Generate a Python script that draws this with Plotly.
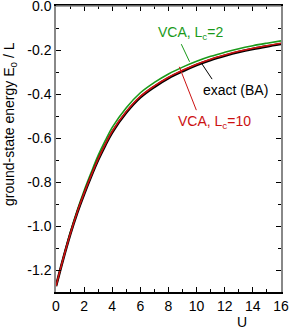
import plotly.graph_objects as go

# Interaction strength U
U = [0, 0.5, 1, 1.5, 2, 2.5, 3, 3.5, 4, 5, 6, 7, 8, 9, 10, 11, 12, 13, 14, 15, 16]

# exact (Bethe ansatz) ground-state energy per site
E_exact = [-1.2732, -1.1524, -1.0402, -0.9410, -0.8543, -0.7740, -0.6990, -0.6330,
           -0.5737, -0.4840, -0.4150, -0.3670, -0.3275, -0.2960, -0.2680, -0.2450,
           -0.2260, -0.2090, -0.1950, -0.1830, -0.1720]

# VCA, Lc=10
E_vca10 = [-1.2732, -1.1514, -1.0382, -0.9380, -0.8503, -0.7695, -0.6945, -0.6285,
           -0.5690, -0.4795, -0.4105, -0.3627, -0.3233, -0.2920, -0.2642, -0.2413,
           -0.2224, -0.2055, -0.1917, -0.1799, -0.1690]

# VCA, Lc=2
E_vca2 = [-1.2732, -1.1494, -1.0332, -0.9300, -0.8393, -0.7570, -0.6790, -0.6120,
          -0.5517, -0.4620, -0.3940, -0.3470, -0.3085, -0.2775, -0.2510, -0.2285,
          -0.2100, -0.1935, -0.1800, -0.1685, -0.1580]

y_tickvals = [0.0, -0.2, -0.4, -0.6, -0.8, -1.0, -1.2]
y_ticktext = ["0.0", "-0.2", "-0.4", "-0.6", "-0.8", "-1.0", "-1.2"]
x_tickvals = [0, 2, 4, 6, 8, 10, 12, 14, 16]
x_ticktext = ["0", "2", "4", "6", "8", "10", "12", "14", "16"]

GREEN = "#1a9a1a"
RED = "#cc1111"
BLACK = "#000000"
FONT = "Liberation Sans, Arial, sans-serif"

fig = go.Figure()
fig.add_trace(go.Scatter(x=U, y=E_vca2, mode="lines", line=dict(color=GREEN, width=1.6, shape="spline"),
                         name="VCA, Lc=2"))
fig.add_trace(go.Scatter(x=U, y=E_exact, mode="lines", line=dict(color=BLACK, width=2.6, shape="spline"),
                         name="exact (BA)"))
fig.add_trace(go.Scatter(x=U, y=E_vca10, mode="lines", line=dict(color=RED, width=1.6, shape="spline"),
                         name="VCA, Lc=10"))

axis_common = dict(
    ticks="inside", ticklen=5, tickwidth=1, tickcolor="black",
    showgrid=False, zeroline=False, showline=True, linewidth=1.5,
    mirror="ticks", automargin=False, ticklabeloverflow="allow",
    tickfont=dict(family=FONT, size=14, color="black"),
)

fig.update_xaxes(range=[0, 16.001], tickvals=x_tickvals, ticktext=x_ticktext,
                 linecolor="black",
                 minor=dict(ticks="inside", ticklen=3, dtick=1, tickcolor="black"),
                 **axis_common)
fig.update_yaxes(range=[-1.3, 0.0005], tickvals=y_tickvals, ticktext=y_ticktext,
                 linecolor="#888888",
                 minor=dict(ticks="inside", ticklen=3, dtick=0.1, tick0=0, tickcolor="black"),
                 **axis_common)

# top frame edge in gray
fig.add_shape(type="line", xref="paper", yref="paper", x0=0, x1=1, y0=1, y1=1,
              line=dict(color="#888888", width=1.5), layer="above")

# pointer lines
fig.add_shape(type="line", x0=8.91, y0=-0.173, x1=9.50, y1=-0.253, line=dict(color=GREEN, width=1))
fig.add_shape(type="line", x0=10.34, y0=-0.259, x1=11.10, y1=-0.332, line=dict(color=BLACK, width=1))
fig.add_shape(type="line", x0=8.77, y0=-0.276, x1=9.98, y1=-0.473, line=dict(color=RED, width=1))

fig.add_annotation(x=9.55, y=-0.123, text="VCA, L<sub>c</sub>=2", showarrow=False,
                   font=dict(family=FONT, size=14, color=GREEN), xanchor="center", yanchor="middle")
fig.add_annotation(x=12.8, y=-0.382, text="exact (BA)", showarrow=False,
                   font=dict(family=FONT, size=14, color=BLACK), xanchor="center", yanchor="middle")
fig.add_annotation(x=11.26, y=-0.526, text="VCA, L<sub>c</sub>=10", showarrow=False,
                   font=dict(family=FONT, size=14, color=RED), xanchor="center", yanchor="middle")

# axis titles
fig.add_annotation(xref="paper", yref="paper", x=0.827, y=-0.105, text="U", showarrow=False,
                   font=dict(family=FONT, size=14, color="black"), xanchor="center", yanchor="middle")
fig.add_annotation(xref="paper", yref="paper", x=-0.205, y=0.587,
                   text="ground-state energy E<sub>0</sub> / L", textangle=-90, showarrow=False,
                   font=dict(family=FONT, size=14, color="black"), xanchor="center", yanchor="middle")

fig.update_layout(
    width=291, height=329,
    margin=dict(l=56, r=10, t=6, b=37, autoexpand=False),
    paper_bgcolor="white", plot_bgcolor="white",
    showlegend=False,
    font=dict(family=FONT, size=14, color="black"),
)

fig.write_html("out.html", config={"displayModeBar": False},
               post_script="document.body.style.margin='0px';document.body.style.overflow='hidden';")
